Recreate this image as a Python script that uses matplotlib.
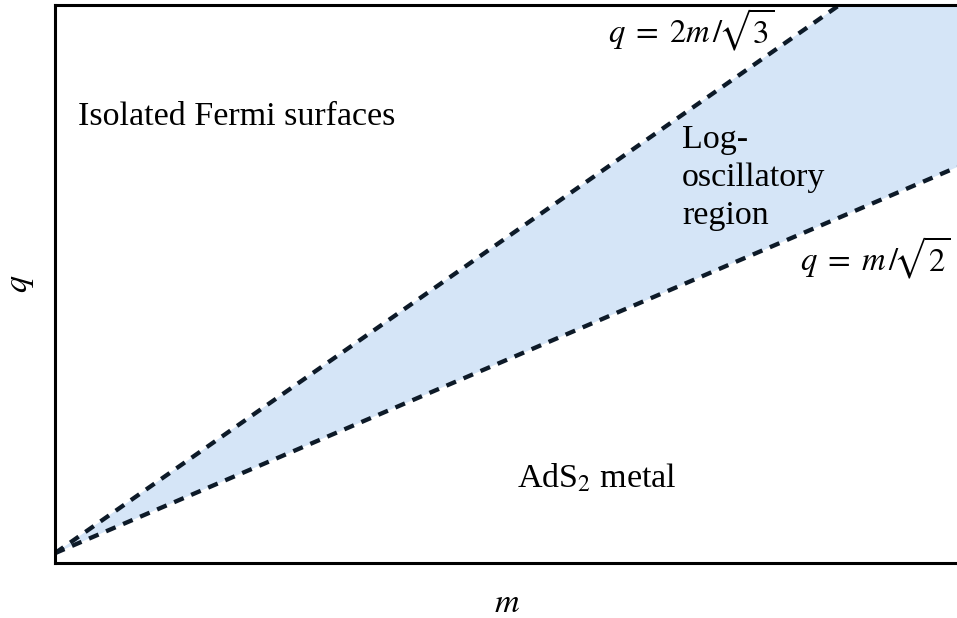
import matplotlib
matplotlib.use("Agg")
import matplotlib.pyplot as plt

plt.rcParams['font.family'] = ['Liberation Serif', 'DejaVu Serif']
plt.rcParams['mathtext.fontset'] = 'stix'

# Boundary lines (endpoints in m, q)
m_vals = [0.0, 1.0]
q_upper = [0.0, 1.1547]   # q = 2m/sqrt(3)
q_lower = [0.0, 0.7071]   # q = m/sqrt(2)

region_labels = ["Isolated Fermi surfaces", "AdS$_2$ metal", "Log-\noscillatory\nregion"]
line_labels = [r"$q\;=\;2m\,/\!\sqrt{3}$", r"$q\;=\;m\,/\!\sqrt{2}$"]

fig = plt.figure(figsize=(9.57, 6.18), dpi=100)
ax = fig.add_axes([55/957, 55/618, 904/957, 558/618])

ax.fill_between(m_vals, q_lower, q_upper, color='#d5e5f7', lw=0, zorder=1)
dash_color = '#0d1a28'
ax.plot(m_vals, q_upper, color=dash_color, lw=3.1, dashes=(2.4, 1.9), zorder=2)
ax.plot(m_vals, q_lower, color=dash_color, lw=3.1, dashes=(2.4, 1.9), zorder=2)

ax.set_xlim(0, 1.002)
ax.set_ylim(-0.018, 1.004)
ax.set_xticks([])
ax.set_yticks([])
for s in ax.spines.values():
    s.set_linewidth(2.2)

fs = 24.5
ax.text(0.0255, 0.800, region_labels[0], fontsize=fs, ha='left', va='center')
ax.text(0.601, 0.137, region_labels[1], fontsize=fs, ha='center', va='center')
ax.text(0.695, 0.687, region_labels[2], fontsize=fs, ha='left', va='center', linespacing=1.32)
ax.text(0.613, 0.958, line_labels[0], fontsize=23.5, ha='left', va='center')
ax.text(0.826, 0.540, line_labels[1], fontsize=23.5, ha='left', va='center')

ax.set_xlabel(r"$m$", fontsize=fs, labelpad=18)
ax.set_ylabel(r"$q$", fontsize=fs, labelpad=14)

fig.savefig("out.png", dpi=100)
